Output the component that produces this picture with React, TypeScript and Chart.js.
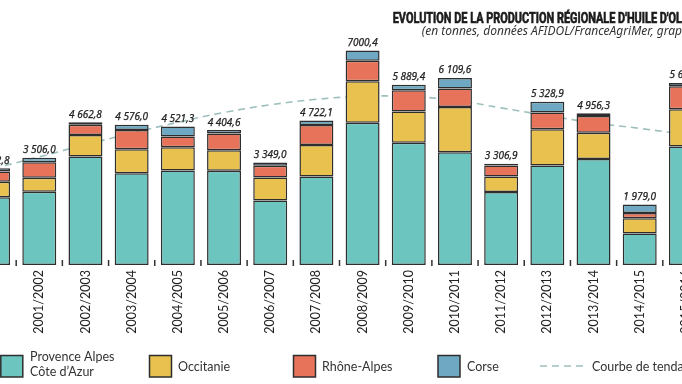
import React, { useEffect, useRef } from 'react';
import { Chart, registerables } from 'chart.js';

Chart.register(...registerables);

// ---- data (tonnes) ----
const seasons = [
  '2000/2001', '2001/2002', '2002/2003', '2003/2004', '2004/2005', '2005/2006',
  '2006/2007', '2007/2008', '2008/2009', '2009/2010', '2010/2011', '2011/2012',
  '2012/2013', '2013/2014', '2014/2015', '2015/2016',
];
const paca = [2215.8, 2395, 3543, 2996, 3082, 3074, 2106, 2891, 4645, 3992, 3679, 2387, 3249, 3462, 1030, 3870];
const occitanie = [500, 458, 700, 785, 762, 677, 752, 1024, 1354, 1024, 1482, 500, 1187, 860, 494, 1214];
const rhoneAlpes = [337, 503, 337, 631, 350, 546, 383, 654, 674, 687, 602, 360, 546, 546, 175, 749];
const corse = [110, 150, 82.8, 164, 327.3, 107.6, 108, 153.1, 327.4, 186.4, 346.6, 59.9, 346.9, 88.3, 280, 111];
const totalLabels = [
  '3 162,8', '3 506,0', '4 662,8', '4 576,0', '4 521,3', '4 404,6', '3 349,0', '4 722,1',
  '7000,4', '5 889,4', '6 109,6', '3 306,9', '5 328,9', '4 956,3', '1 979,0', '5 647,0',
];
const trend = [3150, 3530, 3930, 4300, 4660, 4980, 5230, 5410, 5510, 5500, 5380, 5130, 4880, 4640, 4460, 4260];

const seriesNames = ['Provence Alpes Côte d\u2019Azur', 'Occitanie', 'Rhône-Alpes', 'Corse'];
const trendName = 'Courbe de tendance';
const TITLE = "EVOLUTION DE LA PRODUCTION RÉGIONALE D'HUILE D'OLIVE";
const TITLE_VISIBLE = "EVOLUTION DE LA PRODUCTION RÉGIONALE D'HUILE D'OL";
const SUBTITLE = '(en tonnes, données AFIDOL/FranceAgriMer, graphique)';
const SUBTITLE_VISIBLE = '(en tonnes, données AFIDOL/FranceAgriMer, grap';

const COLORS = {
  paca: '#6cc6bf',
  occ: '#e9c14f',
  ra: '#e8735b',
  corse: '#6ea8c2',
  border: '#2e2e2e',
  trend: '#9dc0bf',
};

const OX = 30; // canvas is shifted 30px to the left of the page

const overlay = {
  id: 'overlay',
  afterDatasetsDraw(chart: any) {
    const ctx = chart.ctx as CanvasRenderingContext2D;
    const xs = chart.scales.x;
    const base = chart.scales.y.getPixelForValue(0);
    ctx.save();
    // tick marks between bars
    ctx.strokeStyle = '#333';
    ctx.lineWidth = 1.5;
    for (let i = 0; i < seasons.length - 1; i++) {
      const x = (xs.getPixelForValue(i) + xs.getPixelForValue(i + 1)) / 2;
      ctx.beginPath();
      ctx.moveTo(x, base - 5);
      ctx.lineTo(x, base + 1);
      ctx.stroke();
    }
    // value labels
    const meta = chart.getDatasetMeta(3);
    ctx.font = 'italic 10px "Noto Sans"';
    ctx.fillStyle = '#222';
    ctx.strokeStyle = '#222';
    ctx.lineWidth = 0.25;
    ctx.textAlign = 'center';
    ctx.textBaseline = 'alphabetic';
    meta.data.forEach((el: any, i: number) => {
      ctx.fillText(totalLabels[i], el.x, el.y - 4.5);
      ctx.strokeText(totalLabels[i], el.x, el.y - 4.5);
    });
    ctx.restore();
  },
  afterDraw(chart: any) {
    const ctx = chart.ctx as CanvasRenderingContext2D;
    ctx.save();
    // title (condensed)
    ctx.font = 'bold 15.5px Roboto';
    const w = ctx.measureText(TITLE_VISIBLE).width;
    const sx = (682 - 392.7) / w;
    ctx.fillStyle = '#1c1c1c';
    ctx.strokeStyle = '#1c1c1c';
    ctx.lineWidth = 0.7;
    ctx.textAlign = 'left';
    ctx.textBaseline = 'alphabetic';
    ctx.translate(392.7 + OX, 22.7);
    ctx.scale(sx, 1);
    ctx.fillText(TITLE, 0, 0);
    ctx.strokeText(TITLE, 0, 0);
    ctx.setTransform(1, 0, 0, 1, 0, 0);
    // subtitle
    ctx.font = 'italic 11px "Noto Sans"';
    const sw = ctx.measureText(SUBTITLE_VISIBLE).width;
    const ss = Math.min(13, 11 * (682 - 421.7) / sw);
    ctx.font = `italic ${ss.toFixed(2)}px "Noto Sans"`;
    ctx.fillStyle = '#333';
    ctx.fillText(SUBTITLE, 421.7 + OX, 34.5);

    // legend
    const box = (x: number, color: string) => {
      ctx.fillStyle = color;
      ctx.fillRect(x + OX, 355.5, 22, 21.5);
      ctx.strokeStyle = '#2e2e2e';
      ctx.lineWidth = 1.5;
      ctx.strokeRect(x + OX, 355.5, 22, 21.5);
    };
    ctx.font = '12.5px Lato';
    box(0.8, COLORS.paca);
    ctx.fillStyle = '#333';
    ctx.fillText('Provence Alpes', 30 + OX, 361);
    ctx.fillText('Côte d\u2019Azur', 30 + OX, 375.5);
    box(149.5, COLORS.occ);
    ctx.fillStyle = '#333';
    ctx.fillText(seriesNames[1], 178 + OX, 371);
    box(293.5, COLORS.ra);
    ctx.fillStyle = '#333';
    ctx.fillText(seriesNames[2], 322 + OX, 371);
    box(438, COLORS.corse);
    ctx.fillStyle = '#333';
    ctx.fillText(seriesNames[3], 467 + OX, 371);
    ctx.strokeStyle = COLORS.trend;
    ctx.lineWidth = 1.5;
    ctx.setLineDash([7, 5]);
    ctx.beginPath();
    ctx.moveTo(540 + OX, 366);
    ctx.lineTo(588 + OX, 366);
    ctx.stroke();
    ctx.setLineDash([]);
    ctx.fillStyle = '#333';
    ctx.fillText(trendName, 592 + OX, 371);
    ctx.restore();
  },
};

export default function App() {
  const ref = useRef<HTMLCanvasElement>(null);

  useEffect(() => {
    if (!ref.current) return;
    const barCommon = {
      type: 'bar' as const,
      borderColor: COLORS.border,
      borderWidth: 1.5,
      borderSkipped: false,
      categoryPercentage: 1,
      barPercentage: 0.735,
      order: 0,
    };
    const chart = new Chart(ref.current, {
      type: 'bar',
      data: {
        labels: seasons,
        datasets: [
          { ...barCommon, label: seriesNames[0], data: paca, backgroundColor: COLORS.paca },
          { ...barCommon, label: seriesNames[1], data: occitanie, backgroundColor: COLORS.occ },
          { ...barCommon, label: seriesNames[2], data: rhoneAlpes, backgroundColor: COLORS.ra },
          { ...barCommon, label: seriesNames[3], data: corse, backgroundColor: COLORS.corse },
          {
            type: 'line',
            label: trendName,
            data: trend,
            borderColor: COLORS.trend,
            borderWidth: 1.6,
            borderDash: [7, 5],
            pointRadius: 0,
            tension: 0.4,
            fill: false,
            stack: 'trend',
            order: 1,
          } as any,
        ],
      },
      options: {
        responsive: false,
        animation: false,
        layout: { padding: { top: 20, left: 0, right: 0, bottom: 0 } },
        plugins: {
          legend: { display: false },
          title: { display: false },
          tooltip: { enabled: false },
        },
        scales: {
          x: {
            stacked: true,
            grid: { display: false, drawTicks: false },
            border: { display: false },
            ticks: {
              autoSkip: false,
              minRotation: 90,
              maxRotation: 90,
              padding: 5,
              color: '#222',
              font: { family: 'Lato', size: 12.5 },
            },
            afterFit(scale: any) {
              scale.height = 119;
            },
          },
          y: {
            stacked: true,
            display: false,
            min: 0,
            max: 8000,
          },
        },
      },
      plugins: [overlay],
    });
    return () => chart.destroy();
  }, []);

  return (
    <div style={{ position: 'fixed', left: 0, top: 0, width: 682, height: 384, overflow: 'hidden', background: '#fff' }}>
      <canvas
        ref={ref}
        width={739}
        height={384}
        style={{ position: 'absolute', left: -OX, top: 0, width: 739, height: 384 }}
      />
    </div>
  );
}
